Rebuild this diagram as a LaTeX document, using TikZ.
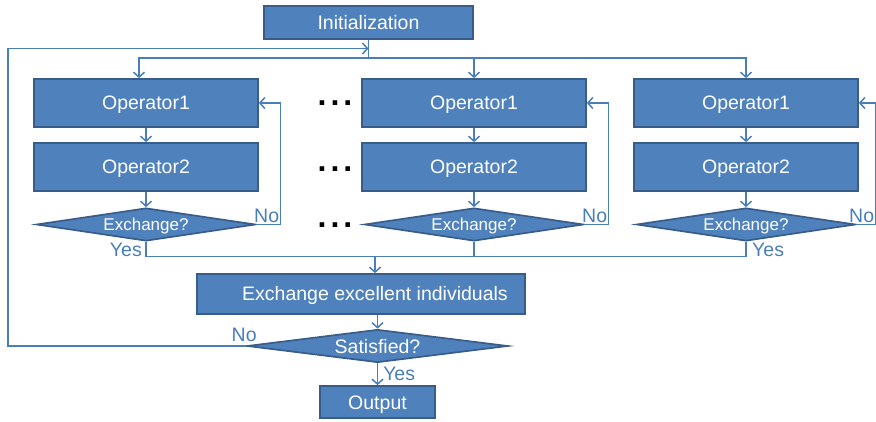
\documentclass[tikz,border=0pt]{standalone}
\usepackage{fontspec}
\setmainfont{Liberation Sans}
\usetikzlibrary{arrows.meta,shapes.geometric}
\definecolor{boxfill}{RGB}{79,129,189}
\definecolor{boxedge}{RGB}{56,93,138}
\definecolor{wire}{RGB}{74,126,187}

\begin{document}
\begin{tikzpicture}[x=1pt, y=-1pt,
    blk/.style={rectangle, draw=boxedge, fill=boxfill, line width=1.7pt, text=white,
                font=\fontsize{19.5}{22}\selectfont, inner sep=0pt,
                text height=14pt, text depth=0pt},
    ask/.style={diamond, draw=boxedge, fill=boxfill, line width=1.7pt, text=white,
                inner sep=0pt, text height=14pt, text depth=0pt},
    flow/.style={line width=1.5pt, color=wire},
    go/.style={flow, -{Straight Barb[length=5pt,width=11pt]}},
    lab/.style={font=\fontsize{19.5}{22}\selectfont, color=wire, inner sep=1pt},
    gapdots/.style={font=\fontsize{32}{34}\selectfont\bfseries, anchor=base, inner sep=0pt}]

  \useasboundingbox (0,0) rectangle (876,422);

  % ---- start --------------------------------------------------------------
  \node[blk, minimum width=209pt, minimum height=33pt] (init) at (368.5,22.5) {Initialization};
  \coordinate (spread) at (368.5,58);
  \coordinate (reentry) at (368.5,48.5);

  % ---- the three parallel columns ------------------------------------------
  \foreach \n/\x in {a/146,b/474,c/746} {
    \node[blk, minimum width=224pt, minimum height=48pt] (op1\n) at (\x,103) {Operator1};
    \node[blk, minimum width=224pt, minimum height=48pt] (op2\n) at (\x,167) {Operator2};
    \node[ask, minimum width=219pt, minimum height=33pt, aspect=6.6, text height=12.2pt,
          font=\fontsize{17}{20}\selectfont] (dia\n) at (\x,224.5) {Exchange?};
    \draw[go] (op1\n) -- (op2\n);
    \draw[go] (op2\n) -- (dia\n);
  }

  % "No" loops back to Operator1
  \foreach \n/\s in {a/24,b/24,c/19} {
    \coordinate (turn\n) at ([xshift=\s pt]dia\n.east);
    \draw[go] (dia\n.east) -- (turn\n) |- (op1\n.east);
    \node[lab, anchor=south east, yshift=1pt] (no\n) at (turn\n) {No};
  }

  % dots between the first two columns
  \foreach \y/\k in {106/1,172/2,228/3} {
    \node[gapdots] (gap\k) at (335,\y) {.\kern4pt.\kern4pt.};
  }

  % ---- spread to the columns ------------------------------------------------
  \draw[flow] (init.south) -- (spread);
  \draw[go] (spread) -| ([xshift=-7pt]op1a.north);
  \draw[go] (spread) -| (op1c.north);
  \draw[go] (op1b.north |- spread) -- (op1b.north);

  % ---- merge and exchange ---------------------------------------------------
  \node[blk, minimum width=328pt, minimum height=40pt] (exch) at (361,294)
    {\hspace*{28pt}Exchange excellent individuals};
  \coordinate (merge) at (375,256.5);
  \draw[flow] (diaa.south) |- (merge);
  \draw[flow] (diac.south) |- (merge);
  \draw[flow] (diab.south) -- (diab.south |- merge);
  \draw[go] (merge) -- (merge |- exch.north);
  \node[lab, anchor=north east, xshift=-3pt] (yesa) at (diaa.south) {Yes};
  \node[lab, anchor=north west, xshift=5pt] (yesc) at (diac.south) {Yes};

  % ---- test and output ------------------------------------------------------
  \node[ask, minimum width=261pt, minimum height=33pt, aspect=7.9,
        font=\fontsize{19.5}{22}\selectfont] (sat) at (377.5,346) {Satisfied?};
  \node[blk, minimum width=115pt, minimum height=32pt] (out) at (377.5,402) {Output};
  \draw[go] (sat.north |- exch.south) -- (sat.north);
  \draw[go] (sat.south) -- node[lab, anchor=west, xshift=4pt] (yessat) {Yes} (out.north);

  % "No" goes all the way back round
  \coordinate (wall) at (8,346);
  \draw[go] (sat.west) -- (wall) |- (reentry);
  \node[lab, anchor=south, xshift=-2pt, yshift=3pt] (nosat) at (sat.west) {No};
\end{tikzpicture}
\end{document}
